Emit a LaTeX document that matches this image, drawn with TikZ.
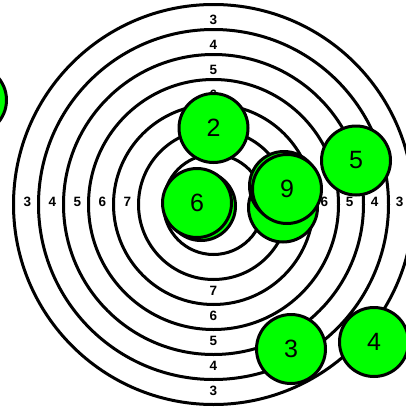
\documentclass[tikz,border=0pt]{standalone}
\usepackage{fontspec}
\setmainfont{Liberation Sans}
\usetikzlibrary{calc}
\begin{document}
\begin{tikzpicture}[x=1pt,y=-1pt,
  ring/.style={draw=black,line width=3pt,circle,inner sep=0pt},
  ringlab/.style={font=\fontsize{13.5}{13.5}\selectfont\bfseries,inner sep=0pt},
  shot/.style={draw=black,fill=shotgreen,line width=3pt,circle,inner sep=0pt,minimum size=69pt,font=\fontsize{25}{25}\selectfont},
]
\definecolor{shotgreen}{RGB}{0,255,0}
\useasboundingbox (0,0) rectangle (406,407);
\fill[white] (0,0) rectangle (406,407);
\coordinate (c) at (213.5,204.5);
% rings
\foreach \r/\n in {200/3,175/4,150/5,125/6,100/7,75/8,50/9}{
  \node[ring,minimum size={2*\r pt}] (ring\n) at (c) {};
}
% ring labels
\foreach \d/\t in {186/3,161/4,136/5,111/6}{
  \node[ringlab] (top\t) at ($(c)+(0,-\d+1.5)$) {\t};
  \node[ringlab] (rgt\t) at ($(c)+(\d,-2.5)$) {\t};
}
\foreach \d/\t in {186/3,161/4,136/5,111/6,86/7}{
  \node[ringlab] (bot\t) at ($(c)+(0,\d)$) {\t};
  \node[ringlab] (lft\t) at ($(c)+(-\d,-2.5)$) {\t};
}
% shots
\node[shot] (s0) at (-28,100) {};
\node[shot] (s6b) at (201,206) {};
\node[shot] (s6) at (197,203) {6};
\node[shot] (s2) at (213.5,128) {2};
\node[shot] (s9c) at (283,207.5) {};
\node[shot] (s9b) at (284,186) {};
\node[shot] (s9) at (287,189) {9};
\node[shot] (s5) at (356,160.5) {5};
\node[shot] (s3) at (291,349) {3};
\node[shot] (s4) at (374,342) {4};
\end{tikzpicture}
\end{document}
